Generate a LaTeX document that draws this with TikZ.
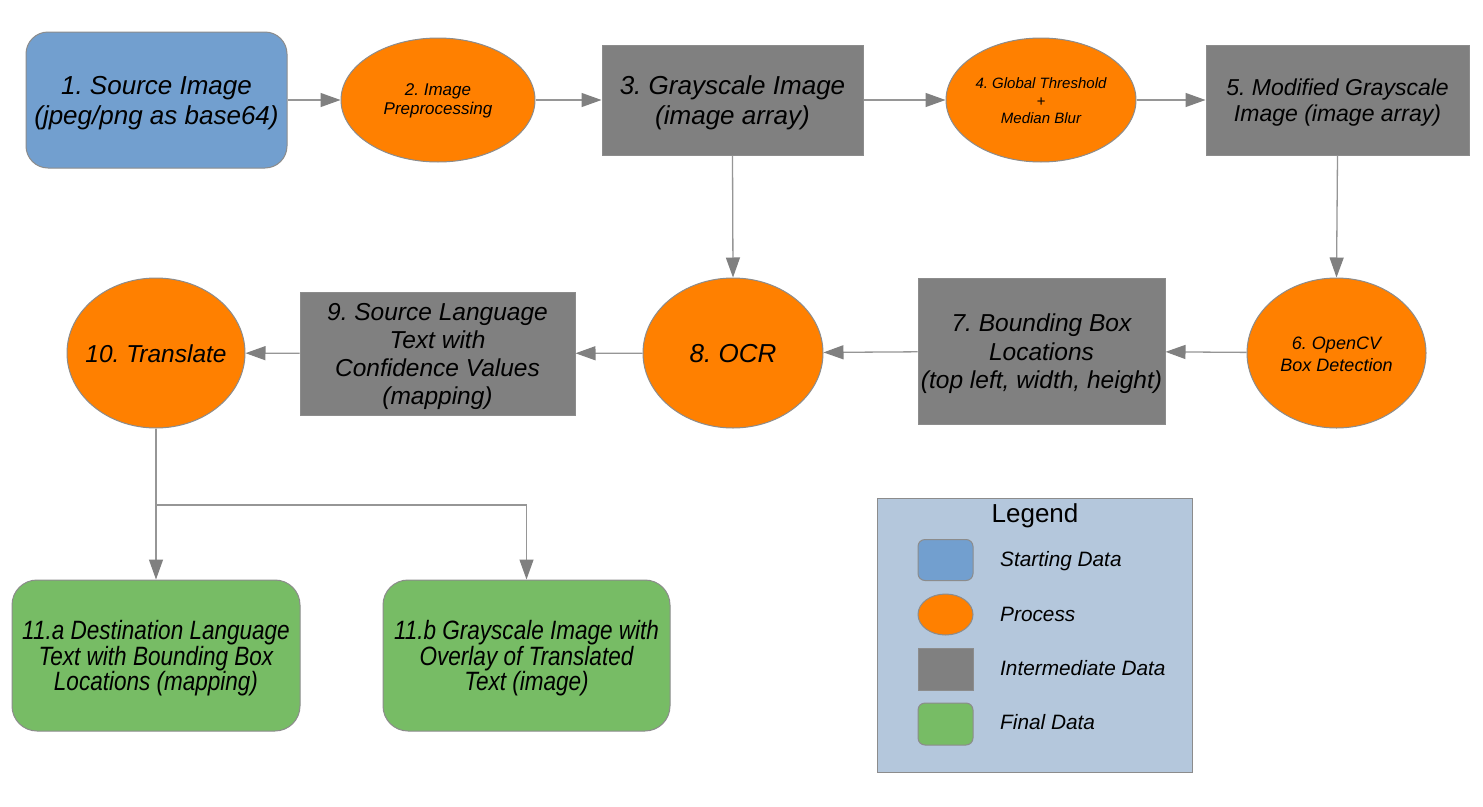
\documentclass[tikz,border=0pt]{standalone}
\usepackage{fontspec}
\setmainfont{Liberation Sans}
\newfontfamily\condfont[FakeStretch=0.85]{Liberation Sans}
\usetikzlibrary{shapes.geometric,arrows.meta}
\definecolor{cblue}{RGB}{114,159,207}
\definecolor{corange}{RGB}{255,128,0}
\definecolor{cgray}{RGB}{128,128,128}
\definecolor{cgreen}{RGB}{119,188,101}
\definecolor{clegend}{RGB}{180,199,220}
\definecolor{cborder}{RGB}{140,140,140}
\definecolor{cline}{RGB}{150,150,150}
\begin{document}
\frenchspacing
\begin{tikzpicture}[x=1pt,y=-1pt,
  base/.style={draw=cborder, line width=1pt, inner sep=0pt, align=center, text=black},
  srcbox/.style={base, fill=cblue, rounded corners=22pt, rectangle},
  finbox/.style={base, fill=cgreen, rounded corners=25pt, rectangle},
  midbox/.style={base, fill=cgray, rectangle},
  proc/.style={base, fill=corange, ellipse},
  ptext/.style={inner sep=0pt, align=center, text=black},
  mtext/.style={ptext, yshift=-3pt},
  big/.style={font=\fontsize{26}{30}\selectfont\itshape},
  arr/.style={draw=cline, line width=1.3pt, -{Triangle[length=20pt,width=14pt,fill=cgray,color=cgray]}},
  plainline/.style={draw=cline, line width=1.3pt},
  lbl/.style={anchor=west, inner sep=0pt, font=\fontsize{20.8}{24}\selectfont\itshape}
]
\fill[white] (0,0) rectangle (1483,806);
\useasboundingbox (0,0) rectangle (1483,806);

% top row
\node[srcbox, minimum width=261pt, minimum height=136pt] (n1) at (156.5,100) {};
\node[mtext, big] (t1) at (n1) {1. Source Image\\(jpeg/png as base64)};
\node[proc, minimum width=194pt, minimum height=124pt] (n2) at (438,100) {};
\node[ptext, yshift=-1pt, font=\fontsize{17}{19}\selectfont\itshape] (t2) at (n2) {2. Image\\Preprocessing};
\node[midbox, minimum width=261pt, minimum height=110pt] (n3) at (732.5,100) {};
\node[mtext, big] (t3) at (n3) {3. Grayscale Image\\(image array)};
\node[proc, minimum width=190pt, minimum height=124pt] (n4) at (1041,100) {};
\node[ptext, yshift=-1pt, font=\fontsize{15}{17.5}\selectfont\itshape] (t4) at (n4) {4. Global Threshold\\+\\Median Blur};
\node[midbox, minimum width=263pt, minimum height=110pt] (n5) at (1337.5,100) {};
\node[mtext, font=\fontsize{23}{26}\selectfont\itshape] (t5) at (n5) {5. Modified Grayscale\\Image (image array)};

% middle row
\node[proc, minimum width=179pt, minimum height=150pt] (n6) at (1336.5,353) {};
\node[ptext, yshift=-1pt, font=\fontsize{18}{22}\selectfont\itshape] (t6) at (n6) {6. OpenCV\\Box Detection};
\node[midbox, minimum width=247pt, minimum height=146pt] (n7) at (1041.5,351) {};
\node[mtext, font=\fontsize{24.5}{28.5}\selectfont\itshape] (t7) at (n7) {7. Bounding Box\\Locations\\(top left, width, height)};
\node[proc, minimum width=180pt, minimum height=150pt] (n8) at (733,353) {};
\node[ptext, yshift=-1pt, big] (t8) at (n8) {8. OCR};
\node[midbox, minimum width=275pt, minimum height=123pt] (n9) at (437.5,353.5) {};
\node[mtext, font=\fontsize{24.5}{27.7}\selectfont\itshape] (t9) at (n9) {9. Source Language\\Text with\\Confidence Values\\(mapping)};
\node[proc, minimum width=178pt, minimum height=150pt] (n10) at (156,353) {};
\node[ptext, yshift=-1pt, font=\fontsize{24.5}{28}\selectfont\itshape] (t10) at (n10) {10. Translate};

% bottom row
\node[finbox, minimum width=288pt, minimum height=151pt] (n11a) at (156,655.5) {};
\node[mtext, font=\fontsize{26.5}{25.5}\selectfont\condfont\itshape] (t11a) at (n11a) {11.a Destination Language\\Text with Bounding Box\\Locations (mapping)};
\node[finbox, minimum width=287pt, minimum height=151pt] (n11b) at (526.5,655.5) {};
\node[mtext, font=\fontsize{26.5}{25.5}\selectfont\condfont\itshape] (t11b) at (n11b) {11.b Grayscale Image with\\Overlay of Translated\\Text (image)};

% connectors
\draw[arr] (n1) -- (n2);
\draw[arr] (n2) -- (n3);
\draw[arr] (n3) -- (n4);
\draw[arr] (n4) -- (n5);
\draw[arr] (n5.south) -- (n6.north);
\draw[arr] (n6) -- (n7);
\draw[arr] (n7) -- (n8);
\draw[arr] (n3.south) -- (n8.north);
\draw[arr] (n8) -- (n9);
\draw[arr] (n9) -- (n10);
\coordinate (split) at (156,505);
\draw[plainline] (n10.south) -- (split);
\draw[arr] (split) -- (n11a.north);
\draw[arr] (split) -| (n11b.north);

% legend
\node[draw=cborder, line width=1pt, fill=clegend, minimum width=315pt, minimum height=274pt, inner sep=0pt] (leg) at (1034.5,635) {};
\node[font=\fontsize{26}{30}\selectfont, inner sep=0pt] (legt) at (1035,516) {Legend};
\node[srcbox, rounded corners=7pt, minimum width=55pt, minimum height=41pt] (sw1) at (945.5,560) {};
\node[proc, minimum width=55pt, minimum height=41pt] (sw2) at (945.5,614.5) {};
\node[midbox, minimum width=55pt, minimum height=42pt] (sw3) at (945.5,669) {};
\node[finbox, rounded corners=7pt, minimum width=55pt, minimum height=42pt] (sw4) at (945.5,724) {};
\node[lbl] (l1) at (1000,561) {Starting Data};
\node[lbl] (l2) at (1000,614.5) {Process};
\node[lbl] (l3) at (1000,668) {Intermediate Data};
\node[lbl] (l4) at (1000,722) {Final Data};
\end{tikzpicture}
\end{document}
